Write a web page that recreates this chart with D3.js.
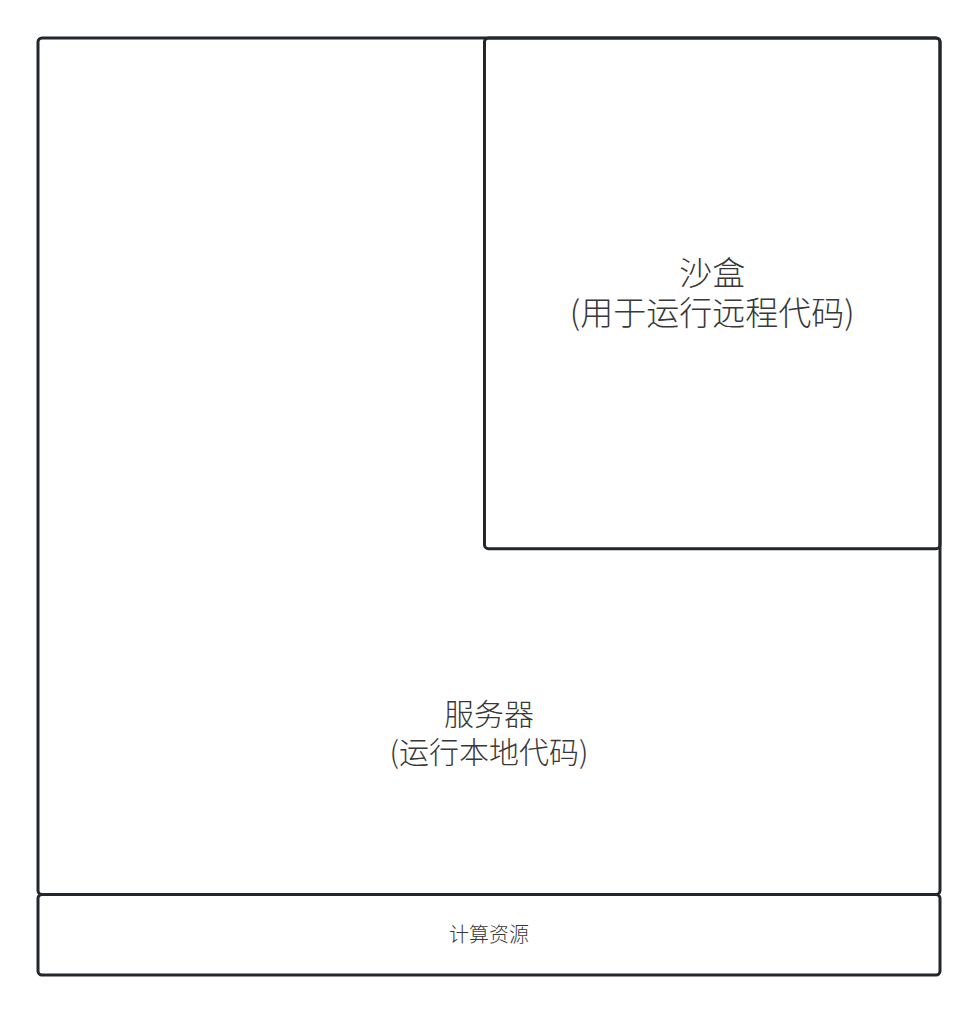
<!DOCTYPE html>
<html>
<head>
<meta charset="utf-8">
<script src="https://cdn.jsdelivr.net/npm/d3@7"></script>
<style>
  html, body { margin: 0; padding: 0; background: #ffffff; }
  svg { display: block; }
</style>
</head>
<body>
<div id="chart_area"></div>
<script>
// box names and their text lines
var boxNames = ["server", "sandbox", "compute"];
var boxLines = [
	["服务器", "(运行本地代码)"],
	["沙盒", "(用于运行远程代码)"],
	["计算资源"]
];
// extents of each box, in layout units (0..100 across, 0..100 down)
var boxX0 = [0, 49.5, 0];
var boxX1 = [100, 100, 100];
var boxY0 = [0, 0, 91.4];
var boxY1 = [91.4, 54.5, 100];
// where the label block sits (layout units) and its look
var labelX = [50, 74.75, 50];
var labelY = [74.0, 27.0, 95.6];
var labelSize = [30, 33, 20];
var labelGap = [38, 40, 0];

var sFrameWidth = 978;
var sFrameHeight = 1014;

var sMargin = { top: 38, right: 38, bottom: 39, left: 38 };

var sFrame = d3.select("#chart_area").append("svg")
	.attr("width", sFrameWidth)
	.attr("height", sFrameHeight);

var sCanvas = sFrame.append("g")
	.attr("transform", "translate(" + sMargin.left + "," + sMargin.top + ")");

var sX = d3.scaleLinear().domain([0, 100])
	.range([0, sFrameWidth - sMargin.left - sMargin.right]);
var sY = d3.scaleLinear().domain([0, 100])
	.range([0, sFrameHeight - sMargin.top - sMargin.bottom]);

var sBoxes = sCanvas.selectAll("g.box")
	.data(boxNames)
	.enter().append("g")
	.attr("class", function(d){ return "box " + d; });

sBoxes.append("rect")
	.attr("x", function(d, i){ return sX(boxX0[i]); })
	.attr("y", function(d, i){ return sY(boxY0[i]); })
	.attr("width", function(d, i){ return sX(boxX1[i]) - sX(boxX0[i]); })
	.attr("height", function(d, i){ return sY(boxY1[i]) - sY(boxY0[i]); })
	.attr("rx", 4)
	.attr("ry", 4)
	.attr("fill", "#ffffff")
	.attr("fill-opacity", 0)
	.attr("stroke", "#22272c")
	.attr("stroke-width", 3);

sBoxes.each(function(d, i){
	var lines = boxLines[i];
	var cx = sX(labelX[i]);
	var cy = sY(labelY[i]);
	var txt = d3.select(this).append("text")
		.attr("text-anchor", "middle")
		.attr("font-family", "'Noto Sans CJK SC', 'Noto Sans', sans-serif")
		.attr("font-weight", 300)
		.attr("font-size", labelSize[i])
		.attr("fill", "#383838");
	lines.forEach(function(line, j){
		txt.append("tspan")
			.attr("x", cx)
			.attr("y", cy + (j - (lines.length - 1) / 2) * labelGap[i])
			.attr("dominant-baseline", "central")
			.text(line);
	});
});
</script>
</body>
</html>
